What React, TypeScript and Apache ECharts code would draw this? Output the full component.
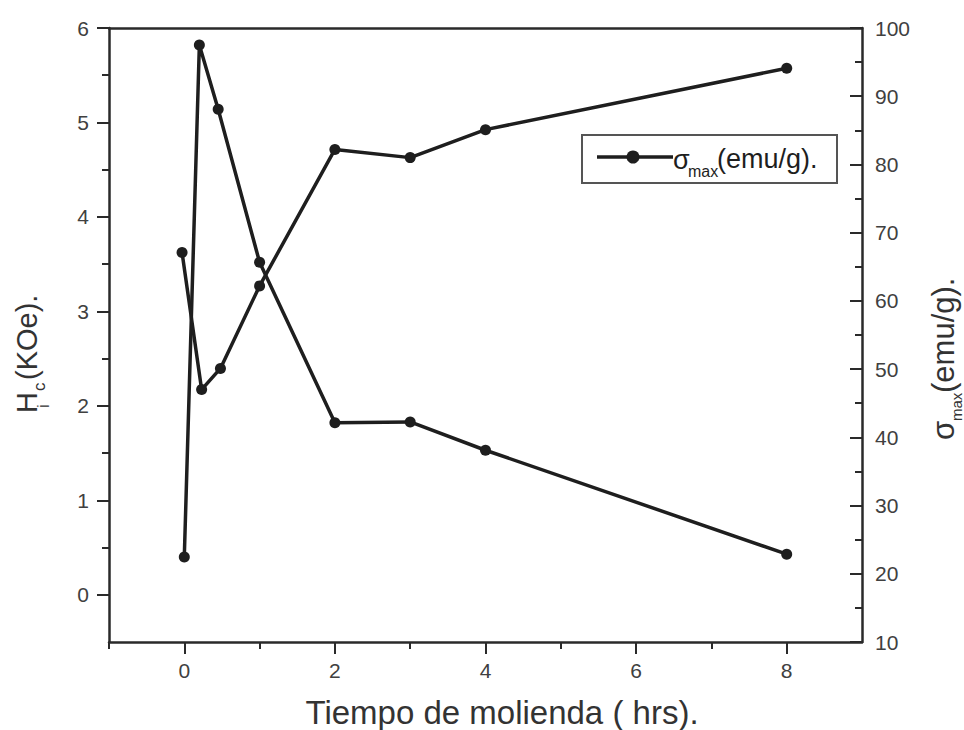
import React, { useEffect, useRef } from "react";
import * as echarts from "echarts";

// Milling time (hours) for each series
const tiempoHc = [0, 0.2, 0.45, 1, 2, 3, 4, 8];
const tiempoSigma = [-0.03, 0.23, 0.48, 1, 2, 3, 4, 8];

// Coercivity iHc (KOe) and maximum magnetization σmax (emu/g)
const hc = [0.4, 5.82, 5.14, 3.52, 1.82, 1.83, 1.53, 0.43];
const sigma = [67.1, 47.0, 50.1, 62.2, 82.2, 81.0, 85.1, 94.1];

// Tick positions
const xMajorTicks = [0, 2, 4, 6, 8];
const xMinorTicks = [-1, 1, 3, 5, 7];
const hcMajorTicks = [0, 1, 2, 3, 4, 5, 6];
const hcMinorTicks = [0.5, 1.5, 2.5, 3.5, 4.5, 5.5];

const FONT = "'Liberation Sans', Arial, Helvetica, sans-serif";
const INK = "#1e1e1e";
const AXIS = "#2a2a2a";
const LABEL = "#404040";

const pair = (xs: number[], ys: number[]) => xs.map((x, i) => [x, ys[i]]);

export default function App() {
  const ref = useRef<HTMLDivElement>(null);

  useEffect(() => {
    if (!ref.current) return;
    const chart = echarts.init(ref.current, null, { renderer: "svg" });

    const axisLine = { show: true, onZero: false, lineStyle: { color: AXIS, width: 2.5 } };
    const hiddenLine = { show: false, onZero: false };
    const tickLine = { color: AXIS, width: 2 };
    const labelStyle = { fontFamily: FONT, fontSize: 21, color: LABEL };

    chart.setOption({
      animation: false,
      backgroundColor: "#ffffff",
      grid: { left: 109, right: 102, top: 28, bottom: 88, show: false },
      xAxis: [
        {
          type: "value",
          min: -1,
          max: 9,
          position: "bottom",
          axisLine,
          axisTick: { show: true, customValues: xMajorTicks, length: 12, lineStyle: tickLine },
          axisLabel: { ...labelStyle, customValues: xMajorTicks, margin: 18 },
          splitLine: { show: false },
        },
        {
          type: "value",
          min: -1,
          max: 9,
          position: "bottom",
          axisLine: hiddenLine,
          axisTick: { show: true, customValues: xMinorTicks, length: 7, lineStyle: tickLine },
          axisLabel: { show: false },
          splitLine: { show: false },
        },
        {
          type: "value",
          min: -1,
          max: 9,
          position: "top",
          axisLine,
          axisTick: { show: false },
          axisLabel: { show: false },
          splitLine: { show: false },
        },
      ],
      yAxis: [
        {
          type: "value",
          min: -0.5,
          max: 6,
          position: "left",
          axisLine,
          axisTick: { show: true, customValues: hcMajorTicks, length: 12, lineStyle: tickLine },
          axisLabel: { ...labelStyle, customValues: hcMajorTicks, margin: 20 },
          splitLine: { show: false },
        },
        {
          type: "value",
          min: 10,
          max: 100,
          interval: 10,
          position: "right",
          axisLine,
          axisTick: { show: true, inside: true, length: 12, lineStyle: tickLine },
          minorTick: { show: true, splitNumber: 2, length: 7, lineStyle: tickLine },
          axisLabel: { ...labelStyle, margin: 13 },
          splitLine: { show: false },
        },
        {
          type: "value",
          min: -0.5,
          max: 6,
          position: "left",
          axisLine: hiddenLine,
          axisTick: { show: true, customValues: hcMinorTicks, length: 7, lineStyle: tickLine },
          axisLabel: { show: false },
          splitLine: { show: false },
        },
      ],
      series: [
        {
          name: "Hc",
          type: "line",
          xAxisIndex: 0,
          yAxisIndex: 0,
          data: pair(tiempoHc, hc),
          symbol: "circle",
          symbolSize: 11,
          lineStyle: { color: INK, width: 3.5 },
          itemStyle: { color: INK },
        },
        {
          name: "σmax",
          type: "line",
          xAxisIndex: 0,
          yAxisIndex: 1,
          data: pair(tiempoSigma, sigma),
          symbol: "circle",
          symbolSize: 11,
          lineStyle: { color: INK, width: 3.5 },
          itemStyle: { color: INK },
        },
      ],
      graphic: [
        // x axis title
        {
          type: "text",
          x: 502,
          y: 712,
          style: {
            text: "Tiempo de molienda ( hrs).",
            font: `33px ${FONT}`,
            fill: "#333",
            align: "center",
            verticalAlign: "middle",
          },
        },
        // left axis title: iHc(KOe).
        {
          type: "group",
          x: 27,
          y: 413,
          rotation: Math.PI / 2,
          children: [
            { type: "text", x: 0, y: 0, style: { text: "H", font: `29px ${FONT}`, fill: "#333", verticalAlign: "middle" } },
            { type: "text", x: 5, y: 16, style: { text: "i", font: `17px ${FONT}`, fill: "#333", verticalAlign: "middle" } },
            { type: "text", x: 22, y: 12, style: { text: "c", font: `17px ${FONT}`, fill: "#333", verticalAlign: "middle" } },
            { type: "text", x: 33, y: 0, style: { text: "(KOe).", font: `29px ${FONT}`, fill: "#333", verticalAlign: "middle" } },
          ],
        },
        // right axis title: σmax(emu/g).
        {
          type: "group",
          x: 943,
          y: 440,
          rotation: Math.PI / 2,
          children: [
            { type: "text", x: 0, y: 0, style: { text: "σ", font: `31px ${FONT}`, fill: "#333", verticalAlign: "middle" } },
            { type: "text", x: 19, y: 13, style: { text: "max", font: `15px ${FONT}`, fill: "#333", verticalAlign: "middle" } },
            { type: "text", x: 47, y: 0, style: { text: "(emu/g).", font: `31px ${FONT}`, fill: "#333", verticalAlign: "middle" } },
          ],
        },
        // legend
        {
          type: "group",
          children: [
            { type: "rect", shape: { x: 582, y: 135, width: 255, height: 48 }, style: { fill: "#fff", stroke: "#555", lineWidth: 2 } },
            { type: "line", shape: { x1: 597, y1: 157, x2: 673, y2: 157 }, style: { stroke: INK, lineWidth: 3.5 } },
            { type: "circle", shape: { cx: 633, cy: 157, r: 6.5 }, style: { fill: INK } },
            { type: "text", x: 673, y: 160, style: { text: "σ", font: `27px ${FONT}`, fill: INK, verticalAlign: "middle" } },
            { type: "text", x: 688, y: 171, style: { text: "max", font: `16px ${FONT}`, fill: INK, verticalAlign: "middle" } },
            { type: "text", x: 717, y: 159, style: { text: "(emu/g).", font: `27px ${FONT}`, fill: INK, verticalAlign: "middle" } },
          ],
        },
      ],
    });

    return () => chart.dispose();
  }, []);

  return (
    <div
      ref={ref}
      style={{ position: "absolute", left: 0, top: 0, width: 964, height: 730 }}
    />
  );
}
